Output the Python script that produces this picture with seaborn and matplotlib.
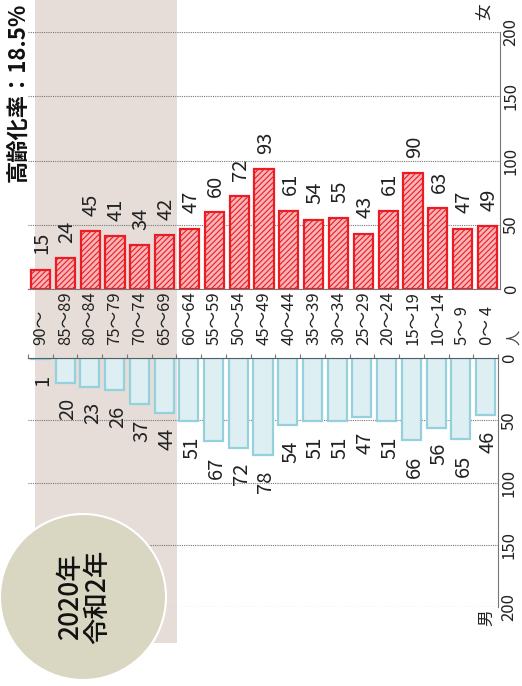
import numpy as np
import pandas as pd
import seaborn as sns
import matplotlib.pyplot as plt
from matplotlib.patches import Rectangle, Ellipse
from matplotlib.transforms import blended_transform_factory

# population (hundreds of people) by age group, 2020
ages = ["90～", "85～89", "80～84", "75～79", "70～74", "65～69", "60～64",
        "55～59", "50～54", "45～49", "40～44", "35～39", "30～34", "25～29",
        "20～24", "15～19", "10～14", "5～ 9", "0～ 4"]
female = [15, 24, 45, 41, 34, 42, 47, 60, 72, 93, 61, 54, 55, 43, 61, 90, 63, 47, 49]
male = [1, 20, 23, 26, 37, 44, 51, 67, 72, 78, 54, 51, 51, 47, 51, 66, 56, 65, 46]
ticks = [0, 50, 100, 150, 200]

sns.set_style("white")
plt.rcParams['font.family'] = ['Liberation Sans Narrow', 'Noto Sans CJK JP', 'DejaVu Sans']
plt.rcParams['hatch.linewidth'] = 0.8

W, H = 522, 686
fig = plt.figure(figsize=(W / 100, H / 100), dpi=100)


def box(x0, y0, x1, y1):
    return [x0 / W, 1 - y1 / H, (x1 - x0) / W, (y1 - y0) / H]


ax_f = fig.add_axes(box(28, 32, 500, 289))
ax_m = fig.add_axes(box(28, 358, 498, 607))

df = pd.DataFrame({"age": ages, "female": female, "male": male})
sns.barplot(data=df, x="age", y="female", order=ages, ax=ax_f, color="#f8b4b6",
            edgecolor="#ec1c24", linewidth=1.6, hatch="//////", width=0.77, saturation=1)
sns.barplot(data=df, x="age", y="male", order=ages, ax=ax_m, color="#ddeff3",
            edgecolor="#95d1dd", linewidth=1.6, width=0.77, saturation=1)

edges = np.arange(-0.5, len(ages), 1)
for ax in (ax_f, ax_m):
    ax.set_facecolor("none")
    ax.set_xlabel("")
    ax.set_ylabel("")
    ax.set_xlim(-0.5, len(ages) - 0.5)
    ax.set_xticks(edges, labels=[])
    ax.tick_params(axis="x", length=3, width=0.8, color="#777777")
    ax.yaxis.tick_right()
    ax.set_yticks(ticks)
    ax.set_yticklabels([str(t) for t in ticks], rotation=90, va="center")
    ax.tick_params(axis="y", length=0, pad=2, labelsize=12, labelcolor="#222222")
    ax.yaxis.grid(True, linestyle=(0, (1, 1)), color="#777777", linewidth=0.8)
    ax.set_axisbelow(True)
    ax.spines["left"].set_visible(False)
    ax.spines["right"].set_color("#777777")

ax_f.set_ylim(0, 200)
ax_f.spines["top"].set_visible(False)
ax_f.spines["bottom"].set_color("#777777")

ax_m.set_ylim(200, 0)
ax_m.xaxis.tick_top()
ax_m.spines["bottom"].set_visible(False)
ax_m.spines["top"].set_color("#556066")

# value labels
for i, v in enumerate(female):
    ax_f.annotate(str(v), (i, v), xytext=(1, 11), textcoords="offset points",
                  rotation=90, ha="center", va="bottom", fontsize=14.5, color="#222222")
for i, v in enumerate(male):
    ax_m.annotate(str(v), (i, v), xytext=(2, -11), textcoords="offset points",
                  rotation=90, ha="center", va="top", fontsize=14.5, color="#222222")

# age group labels between the two halves
tr = blended_transform_factory(ax_f.transData, fig.transFigure)
for i, a in enumerate(ages):
    fig.text(i, 1 - 345 / H, a, transform=tr, rotation=90, ha="center", va="bottom",
             fontsize=12, color="#222222")

# shaded 65+ band
fig.add_artist(Rectangle((35 / W, 1 - 643 / H), 142 / W, 643 / H, transform=fig.transFigure,
                         facecolor="#e6ddd9", edgecolor="none", zorder=-1))

fig.text(19 / W, 1 - 182 / H, "高齢化率：18.5%", rotation=90, ha="center", va="bottom",
         fontsize=16, weight="bold", family=["Noto Sans CJK JP"], color="#111111")
fig.text(485 / W, 1 - 12 / H, "女", rotation=90, ha="center", va="center",
         fontsize=12, family=["Noto Sans CJK JP"], color="#222222")
fig.text(487 / W, 1 - 618 / H, "男", rotation=90, ha="center", va="center",
         fontsize=12, family=["Noto Sans CJK JP"], color="#222222")
fig.text(514 / W, 1 - 337 / H, "人", rotation=90, ha="center", va="center",
         fontsize=11, family=["Noto Sans CJK JP"], color="#444444")

fig.add_artist(Ellipse((83 / W, 1 - 597 / H), 166 / W, 166 / H, transform=fig.transFigure,
                       facecolor="#d9d6c1", edgecolor="white", linewidth=1.5, zorder=3))
fig.text(84 / W, 1 - 597 / H, "2020年\n令和2年", rotation=90, ha="center", va="center",
         fontsize=19, linespacing=1.0, multialignment="center", weight="medium",
         family=["Noto Sans CJK JP"], color="#111111", zorder=4)

fig.savefig("out.png", dpi=100)
